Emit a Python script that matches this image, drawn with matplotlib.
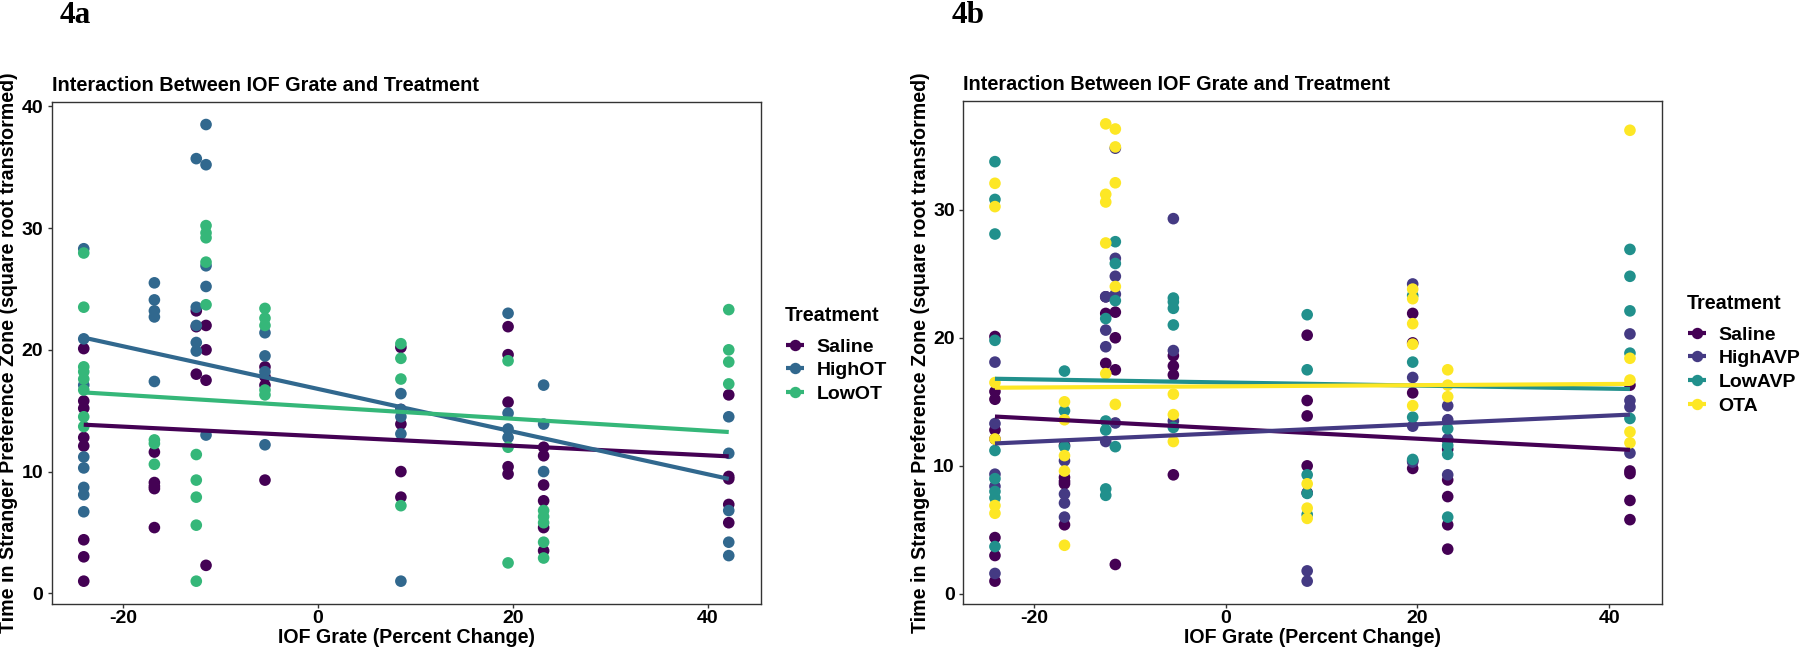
import matplotlib
matplotlib.use("Agg")
import matplotlib.pyplot as plt
from matplotlib.lines import Line2D
import numpy as np

plt.rcParams['font.family'] = ['Liberation Sans', 'DejaVu Sans']
plt.rcParams['font.weight'] = 'bold'
plt.rcParams['axes.unicode_minus'] = False

# ---------------- data ----------------
x_cols = [-24.05, -16.8, -12.5, -11.5, -5.45, 8.5, 19.5, 23.15, 42.15]

saline_y = [[20.1, 15.8, 15.2, 12.8, 12.1, 4.4, 3.0, 1.0],
            [11.6, 9.1, 8.8, 8.6, 5.4],
            [23.2, 21.9, 18.0],
            [22.0, 20.0, 17.5, 2.3],
            [18.6, 17.8, 17.1, 9.3],
            [20.2, 15.1, 13.9, 10.0, 7.9],
            [21.9, 19.6, 15.7, 10.4, 9.8],
            [12.0, 11.3, 8.9, 7.6, 5.4, 3.5],
            [16.3, 9.6, 9.4, 7.3, 5.8]]

highot_y = [[28.3, 20.9, 17.1, 11.2, 10.3, 8.7, 8.1, 6.7],
            [25.5, 24.1, 23.2, 22.7, 17.4],
            [35.7, 23.5, 22.0, 20.6, 19.9],
            [38.5, 35.2, 26.9, 25.2, 13.0],
            [21.4, 19.5, 18.2, 12.2],
            [16.4, 15.1, 14.5, 13.1, 1.0],
            [23.0, 14.8, 13.5, 12.8],
            [17.1, 13.9, 10.0],
            [14.5, 11.5, 6.8, 4.2, 3.1]]

lowot_y = [[27.95, 23.5, 18.6, 18.2, 17.6, 16.7, 14.5, 13.7],
           [12.6, 12.3, 10.6],
           [11.4, 9.3, 7.9, 5.6, 1.0],
           [30.2, 29.6, 29.2, 27.2, 23.7],
           [23.4, 22.6, 22.0, 16.7, 16.3],
           [20.5, 19.3, 17.6, 7.2],
           [19.1, 12.0, 2.5],
           [6.8, 6.3, 5.8, 4.2, 2.9],
           [23.3, 20.0, 19.0, 17.2]]

highavp_y = [[18.1, 13.3, 9.35, 8.4, 1.6],
             [10.4, 7.8, 7.1, 6.0],
             [23.2, 20.6, 19.3, 11.9],
             [34.8, 26.2, 24.8, 23.4, 13.35],
             [29.3, 19.0, 13.5],
             [1.8, 1.0],
             [24.2, 16.9, 13.1, 10.3],
             [14.7, 13.6, 12.1, 9.3],
             [20.3, 15.1, 14.6, 11.0]]

lowavp_y = [[33.75, 30.8, 28.1, 19.8, 11.2, 9.0, 8.0, 7.5, 3.7],
            [17.4, 14.3, 11.5],
            [21.5, 13.5, 12.8, 8.2, 7.7],
            [27.5, 25.8, 22.9, 11.5],
            [23.1, 22.8, 22.3, 21.0, 13.0],
            [21.8, 17.5, 9.3, 7.85, 6.2],
            [23.3, 18.1, 13.8, 10.5],
            [12.9, 11.6, 10.9, 6.0],
            [26.9, 24.8, 22.1, 18.8, 13.7]]

ota_y = [[32.06, 30.24, 16.5, 12.1, 6.9, 6.3],
         [15.0, 13.6, 10.8, 9.6, 3.8],
         [36.7, 31.2, 30.6, 27.4, 17.2],
         [36.3, 34.9, 32.1, 24.0, 14.8],
         [15.6, 14.0, 11.9],
         [8.6, 6.7, 5.9],
         [23.8, 23.05, 21.1, 19.5, 14.7],
         [17.5, 16.3, 15.4],
         [36.2, 18.4, 16.7, 12.65, 11.8]]

# fitted (lm) line values at the smallest and largest x
fit_saline = [13.85, 11.25]
fit_highot = [21.0, 9.4]
fit_lowot = [16.5, 13.25]
fit_highavp = [11.75, 14.0]
fit_lowavp = [16.8, 16.0]
fit_ota = [16.1, 16.4]

labels_a = ['Saline', 'HighOT', 'LowOT']
labels_b = ['Saline', 'HighAVP', 'LowAVP', 'OTA']
colors_a = ['#440154', '#31688E', '#35B779']
colors_b = ['#440154', '#443A83', '#21908C', '#FDE725']

title = 'Interaction Between IOF Grate and Treatment'
xlabel = 'IOF Grate (Percent Change)'
ylabel = 'Time in Stranger Preference Zone (square root transformed)'
legend_title = 'Treatment'

# ---------------- figure ----------------
W, H = 1800, 654
fig = plt.figure(figsize=(W / 100, H / 100), dpi=100)


def box(l, r, t, b):
    return [l / W, 1 - b / H, (r - l) / W, (b - t) / H]


def fx(px):
    return px / W


def fy(py):
    return 1 - py / H


ax_a = fig.add_axes(box(51.5, 761, 101.7, 604))
ax_b = fig.add_axes(box(963.2, 1661.7, 101, 604))


def flatten(cols):
    xs, ys = [], []
    for xv, col in zip(x_cols, cols):
        xs += [xv] * len(col)
        ys += list(col)
    return np.array(xs), np.array(ys)


def legend(x_title, y_title, labels, colors):
    # y positions are glyph centres in pixels from the top
    fig.text(fx(x_title), fy(y_title + 7.0), legend_title, ha='left',
             va='baseline', fontsize=14.2, fontweight='bold')
    kx = x_title + 10
    lx = x_title + 31.7
    for i, (lab, c) in enumerate(zip(labels, colors)):
        y = y_title + 31 + i * 23.7
        fig.add_artist(Line2D([fx(kx - 9), fx(kx + 9)], [fy(y), fy(y)],
                              transform=fig.transFigure, color=c, lw=3,
                              solid_capstyle='butt'))
        fig.add_artist(Line2D([fx(kx)], [fy(y)], transform=fig.transFigure,
                              color=c, marker='o', markersize=8.2,
                              markeredgewidth=0, linestyle='none'))
        fig.text(fx(lx), fy(y + 7.0), lab, ha='left', va='baseline',
                 fontsize=14, fontweight='bold')


def panel(ax, groups, fits, labels, colors, yticks):
    allx, ally = [], []
    for g, c in zip(groups, colors):
        xs, ys = flatten(g)
        allx.append(xs); ally.append(ys)
        ax.scatter(xs, ys, s=70, color=c, edgecolors='none', zorder=2)
    for g, f, c in zip(groups, fits, colors):
        xs, ys = flatten(g)
        ax.plot([xs.min(), xs.max()], f, color=c, lw=3, zorder=3,
                solid_capstyle='butt')
    allx = np.concatenate(allx); ally = np.concatenate(ally)
    xr = allx.max() - allx.min(); yr = ally.max() - ally.min()
    ax.set_xlim(allx.min() - 0.05 * xr, allx.max() + 0.05 * xr)
    ax.set_ylim(ally.min() - 0.05 * yr, ally.max() + 0.05 * yr)
    ax.set_xticks([-20, 0, 20, 40])
    ax.set_yticks(yticks)
    ax.tick_params(labelsize=14, length=3, width=1, colors='#333333',
                   labelcolor='black')
    ax.tick_params(axis='x', pad=1.5)
    ax.tick_params(axis='y', pad=3)
    for lab in ax.get_xticklabels() + ax.get_yticklabels():
        lab.set_fontweight('bold')
    for sp in ax.spines.values():
        sp.set_color('#333333'); sp.set_linewidth(1.0)
    ax.set_title(title, loc='left', fontsize=14.3, fontweight='bold', pad=8)
    ax.set_xlabel(xlabel, fontsize=14.1, fontweight='bold', labelpad=0.7)
    ax.set_ylabel(ylabel, fontsize=14.1, fontweight='bold')
    ax.yaxis.set_label_coords(-0.047, 0.5)


panel(ax_a, [saline_y, highot_y, lowot_y], [fit_saline, fit_highot, fit_lowot],
      labels_a, colors_a, [0, 10, 20, 30, 40])
panel(ax_b, [saline_y, highavp_y, lowavp_y, ota_y],
      [fit_saline, fit_highavp, fit_lowavp, fit_ota],
      labels_b, colors_b, [0, 10, 20, 30])

legend(785, 313.5, labels_a, colors_a)
legend(1686.7, 301.7, labels_b, colors_b)

fig.text(fx(59.3), fy(22.7), '4a', family='Liberation Serif',
         fontweight='bold', fontsize=22.5, va='baseline')
fig.text(fx(951.7), fy(22.7), '4b', family='Liberation Serif',
         fontweight='bold', fontsize=22.5, va='baseline')

fig.savefig('out.png', dpi=100, facecolor='white')
